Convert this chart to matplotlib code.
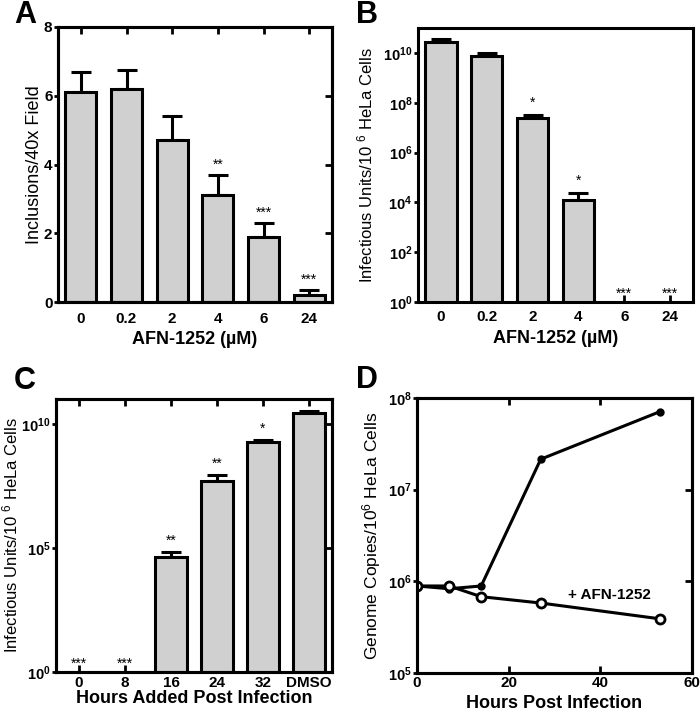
import numpy as np
import matplotlib.pyplot as plt
from matplotlib.ticker import NullLocator

plt.rcParams['font.family'] = ['Liberation Sans', 'DejaVu Sans']
plt.rcParams['mathtext.fontset'] = 'custom'
plt.rcParams['mathtext.rm'] = 'Liberation Sans'
plt.rcParams['mathtext.bf'] = 'Liberation Sans:bold'
plt.rcParams['mathtext.default'] = 'regular'

# Panel A data
a_labels = ['0', '0.2', '2', '4', '6', '24']
a_vals = [6.1, 6.2, 4.7, 3.1, 1.9, 0.2]
a_err = [0.6, 0.55, 0.7, 0.6, 0.4, 0.15]
a_stars = ['', '', '', '**', '***', '***']

# Panel B data
b_labels = ['0', '0.2', '2', '4', '6', '24']
b_vals = [2.8e10, 7.8e9, 2.4e7, 1.2e4, 0, 0]
b_errtop = [3.6e10, 9.8e9, 3.2e7, 2.4e4, 0, 0]
b_stars = ['', '', '*', '*', '***', '***']

# Panel C data
c_labels = ['0', '8', '16', '24', '32', 'DMSO']
c_vals = [0, 0, 4.2e4, 5.0e7, 1.9e9, 2.7e10]
c_errtop = [0, 0, 7.0e4, 8.7e7, 2.3e9, 3.3e10]
c_stars = ['***', '***', '**', '**', '*', '']

# Panel D data
d_hours = [0, 7, 14, 27, 53]
d_untreated = [8.9e5, 8.3e5, 8.9e5, 2.15e7, 7.1e7]
d_afn = [8.9e5, 8.9e5, 6.8e5, 5.8e5, 3.9e5]

W, H = 700, 712
fig = plt.figure(figsize=(W / 100, H / 100), dpi=100)
LW = 2.2


def px_axes(l, t, r, b):
    return fig.add_axes([l / W, 1 - b / H, (r - l) / W, (b - t) / H])


def log_label(v):
    e = int(round(np.log10(v)))
    return r'$\mathbf{10^{%d}}$' % e


def finish(ax, xpad, yticks, ylab_x, log=False, top=True, right=True):
    for s in ax.spines.values():
        s.set_linewidth(LW)
    ax.set_yticks(yticks)
    if log:
        ax.set_yticklabels([log_label(v) for v in yticks])
        ax.yaxis.set_minor_locator(NullLocator())
    ax.tick_params(axis='y', direction='out', length=3, width=2,
                   labelsize=10.5 if log else 11, pad=1)
    ax.tick_params(axis='x', direction='in', length=5, width=2, labelsize=11,
                   pad=xpad, top=top)
    for lab in ax.get_xticklabels() + ax.get_yticklabels():
        lab.set_fontweight('bold')
    ax.yaxis.set_label_coords(ylab_x, 0.5)
    if right:
        axr = ax.twinx()
        axr.set_yscale(ax.get_yscale())
        axr.set_ylim(ax.get_ylim())
        axr.set_yticks(yticks)
        axr.yaxis.set_minor_locator(NullLocator())
        axr.tick_params(axis='y', direction='in', length=5, width=2,
                        labelright=False)
        for s in axr.spines.values():
            s.set_linewidth(LW)


def bars(ax, vals, errtop, stars, star_gap, zero_y):
    x = np.arange(len(vals))
    v = np.array(vals, dtype=float)
    t = np.array(errtop, dtype=float)
    ax.bar(x, v, width=0.68, color='#d0d0d0', edgecolor='black', linewidth=LW,
           zorder=2)
    m = v > 0
    ax.errorbar(x[m], v[m], yerr=[np.zeros(m.sum()), t[m] - v[m]], fmt='none',
                ecolor='black', elinewidth=LW, capsize=7, capthick=LW, zorder=1)
    for xi, top, s in zip(x, t, stars):
        if s:
            y = star_gap(top) if top > 0 else zero_y
            ax.text(xi, y, s, ha='center', va='bottom', fontsize=10)
    return x


# ---------- A ----------
ax = px_axes(58, 27, 332, 302)
x = bars(ax, a_vals, np.array(a_vals) + np.array(a_err), a_stars,
         lambda t: t + 0.08, 0.1)
ax.set_xlim(-0.5, 5.5)
ax.set_ylim(0, 8)
ax.set_xticks(x, a_labels)
ax.set_xlabel('AFN-1252 (µM)', fontsize=13, fontweight='bold', labelpad=4)
ax.set_ylabel('Inclusions/40x Field', fontsize=13)
finish(ax, 7, [0, 2, 4, 6, 8], -0.055)

# ---------- B ----------
ax = px_axes(418, 28, 693, 302)
ax.set_yscale('log')
x = bars(ax, b_vals, b_errtop, b_stars, lambda t: t * 1.6, 1.15)
ax.set_xlim(-0.5, 5.5)
ax.set_ylim(1, 1e11)
ax.set_xticks(x, b_labels)
ax.set_xlabel('AFN-1252 (µM)', fontsize=13, fontweight='bold', labelpad=4)
ax.set_ylabel('Infectious Units/10 $^6$ HeLa Cells', fontsize=12)
finish(ax, 6, [1, 1e2, 1e4, 1e6, 1e8, 1e10], -0.155, log=True, top=False,
       right=False)

# ---------- C ----------
ax = px_axes(56, 399, 332, 672)
ax.set_yscale('log')
x = bars(ax, c_vals, c_errtop, c_stars, lambda t: t * 1.5, 1.15)
ax.set_xlim(-0.5, 5.5)
ax.set_ylim(1, 1e11)
ax.set_xticks(x, c_labels)
ax.set_xlabel('Hours Added Post Infection', fontsize=13, fontweight='bold',
              labelpad=0)
ax.set_ylabel('Infectious Units/10 $^6$ HeLa Cells', fontsize=12)
finish(ax, 3, [1, 1e5, 1e10], -0.128, log=True)

# ---------- D ----------
ax = px_axes(417, 398, 692, 673)
ax.set_yscale('log')
ax.plot(d_hours, d_untreated, '-o', color='black', lw=LW, ms=5, zorder=3)
ax.plot(d_hours, d_afn, '-o', color='black', lw=LW, ms=6.5, mfc='white',
        mew=2, zorder=4)
ax.text(33, 7.1e5, '+ AFN-1252', fontsize=11, fontweight='bold', va='center')
ax.set_xlim(0, 60)
ax.set_ylim(1e5, 1e8)
ax.set_xticks([0, 20, 40, 60])
ax.set_xlabel('Hours Post Infection', fontsize=13, fontweight='bold',
              labelpad=4)
ax.set_ylabel('Genome Copies/10$^6$ HeLa Cells', fontsize=12.5)
finish(ax, 2, [1e5, 1e6, 1e7, 1e8], -0.124, log=True)

# panel letters
for letter, px, py in [('A', 14, 15), ('B', 356, 15), ('C', 14, 381), ('D', 356, 380)]:
    fig.text(px / W, 1 - py / H, letter, fontsize=22, fontweight='bold',
             ha='left', va='center')

fig.savefig('out.png', dpi=100)
